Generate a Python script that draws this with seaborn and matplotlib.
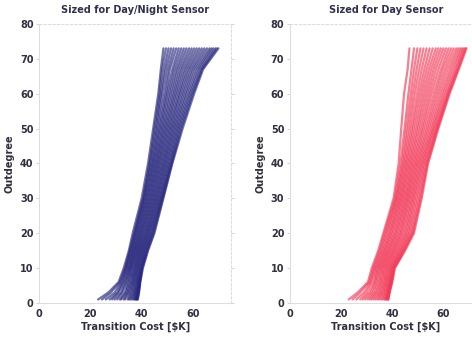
import pandas as pd
import matplotlib.pyplot as plt
import seaborn as sns

outdegree = [1, 3, 6, 10, 15, 20, 30, 40, 50, 60, 67, 73]

# transition cost [$K] per trace, sized for day/night sensor
day_night_costs = [
    [23.0, 27.0, 31.0, 33.0, 35.0, 36.5, 40.0, 42.5, 44.5, 46.5, 47.5, 48.5],
    [24.5, 28.0, 31.5, 33.5, 35.3, 37.0, 40.5, 43.0, 45.0, 47.0, 48.0, 49.5],
    [26.0, 29.5, 32.0, 33.8, 35.6, 37.3, 40.8, 43.3, 45.5, 47.5, 48.8, 50.5],
    [27.5, 30.5, 32.5, 34.0, 36.0, 37.6, 41.0, 43.8, 46.0, 48.0, 49.5, 51.5],
    [28.5, 31.0, 33.0, 34.5, 36.3, 38.0, 41.5, 44.2, 46.5, 48.8, 50.3, 52.5],
    [29.5, 32.0, 33.5, 34.8, 36.6, 38.3, 41.8, 44.6, 47.0, 49.5, 51.0, 53.5],
    [30.5, 32.5, 34.0, 35.2, 37.0, 38.8, 42.2, 45.0, 47.5, 50.0, 52.0, 54.5],
    [31.5, 33.5, 34.5, 35.5, 37.3, 39.0, 42.6, 45.5, 48.0, 50.7, 52.7, 55.5],
    [32.0, 34.0, 35.0, 35.8, 37.6, 39.5, 43.0, 45.8, 48.5, 51.3, 53.5, 56.5],
    [33.0, 34.5, 35.5, 36.2, 38.0, 39.8, 43.4, 46.3, 49.0, 52.0, 54.2, 57.5],
    [33.5, 35.0, 36.0, 36.5, 38.3, 40.2, 43.8, 46.7, 49.5, 52.6, 55.0, 58.5],
    [34.5, 35.5, 36.3, 37.0, 38.6, 40.5, 44.2, 47.1, 50.0, 53.2, 55.7, 59.5],
    [35.0, 36.0, 36.8, 37.3, 39.0, 41.0, 44.6, 47.6, 50.5, 53.8, 56.5, 60.5],
    [35.5, 36.5, 37.0, 37.6, 39.3, 41.3, 45.0, 48.0, 51.0, 54.5, 57.2, 61.5],
    [36.0, 37.0, 37.5, 38.0, 39.6, 41.8, 45.4, 48.5, 51.5, 55.0, 58.0, 62.5],
    [36.5, 37.3, 37.8, 38.3, 40.0, 42.0, 45.8, 48.9, 52.0, 55.7, 58.7, 63.5],
    [37.0, 37.6, 38.2, 38.6, 40.3, 42.5, 46.2, 49.3, 52.5, 56.3, 59.5, 64.5],
    [37.3, 38.0, 38.5, 39.0, 40.6, 42.8, 46.6, 49.8, 53.0, 57.0, 60.2, 65.5],
    [37.6, 38.2, 38.7, 39.3, 41.0, 43.2, 47.0, 50.2, 53.5, 57.6, 61.0, 66.5],
    [37.8, 38.4, 39.0, 39.6, 41.3, 43.6, 47.4, 50.7, 54.0, 58.3, 61.8, 67.3],
    [38.0, 38.6, 39.2, 39.9, 41.6, 44.0, 47.7, 51.1, 54.5, 58.9, 62.5, 68.0],
    [38.2, 38.8, 39.3, 40.1, 42.0, 44.3, 48.0, 51.5, 55.0, 59.5, 63.2, 68.8],
    [38.4, 38.9, 39.4, 40.3, 42.3, 44.7, 48.3, 51.8, 55.5, 60.0, 63.6, 69.4],
    [38.5, 39.0, 39.5, 40.5, 42.5, 45.0, 48.5, 52.0, 56.0, 60.5, 64.0, 70.0],
]

# transition cost [$K] per trace, sized for day sensor
day_costs = [
    [23.0, 26.5, 30.5, 32.0, 34.5, 36.5, 40.5, 42.5, 43.5, 44.6, 46.0, 46.7],
    [24.5, 27.5, 31.0, 32.5, 35.0, 37.0, 41.0, 43.2, 44.8, 46.3, 47.5, 48.5],
    [26.0, 29.0, 31.5, 33.0, 35.5, 37.5, 41.4, 43.8, 45.5, 47.2, 48.5, 49.8],
    [27.5, 30.0, 32.0, 33.4, 36.0, 38.0, 41.8, 44.3, 46.2, 48.0, 49.5, 51.0],
    [28.5, 31.0, 32.8, 33.9, 36.5, 38.6, 42.2, 44.8, 46.9, 48.8, 50.5, 52.2],
    [29.5, 31.8, 33.3, 34.3, 37.0, 39.1, 42.7, 45.3, 47.6, 49.7, 51.5, 53.4],
    [30.5, 32.5, 33.8, 34.8, 37.4, 39.6, 43.1, 45.8, 48.2, 50.5, 52.5, 54.6],
    [31.3, 33.2, 34.4, 35.2, 37.9, 40.1, 43.6, 46.3, 48.9, 51.3, 53.4, 55.8],
    [32.0, 33.8, 35.0, 35.7, 38.4, 40.7, 44.0, 46.8, 49.6, 52.1, 54.3, 57.0],
    [32.8, 34.4, 35.5, 36.1, 38.8, 41.2, 44.5, 47.3, 50.2, 52.9, 55.2, 58.0],
    [33.5, 35.0, 36.0, 36.6, 39.3, 41.7, 45.0, 47.8, 50.9, 53.7, 56.1, 59.0],
    [34.2, 35.5, 36.5, 37.0, 39.8, 42.2, 45.4, 48.3, 51.6, 54.5, 57.0, 60.0],
    [34.8, 36.0, 37.0, 37.5, 40.3, 42.8, 45.9, 48.8, 52.2, 55.3, 58.0, 61.0],
    [35.4, 36.5, 37.4, 37.9, 40.7, 43.3, 46.3, 49.3, 52.9, 56.2, 59.0, 62.0],
    [36.0, 37.0, 37.8, 38.4, 41.2, 43.8, 46.8, 49.8, 53.6, 57.0, 59.8, 63.0],
    [36.5, 37.4, 38.2, 38.8, 41.7, 44.4, 47.3, 50.3, 54.2, 57.8, 60.7, 64.0],
    [37.0, 37.8, 38.6, 39.2, 42.2, 45.0, 47.8, 50.8, 54.9, 58.6, 61.6, 65.0],
    [37.3, 38.1, 38.9, 39.6, 42.7, 45.5, 48.3, 51.3, 55.5, 59.4, 62.5, 65.8],
    [37.6, 38.3, 39.2, 39.9, 43.2, 46.1, 48.8, 51.8, 56.0, 60.1, 63.3, 66.6],
    [37.8, 38.5, 39.4, 40.2, 43.6, 46.6, 49.4, 52.3, 56.5, 60.8, 64.1, 67.2],
    [38.0, 38.7, 39.6, 40.5, 44.0, 47.2, 50.0, 52.8, 57.0, 61.4, 64.8, 67.8],
    [38.2, 38.8, 39.7, 40.7, 44.4, 47.7, 50.6, 53.3, 57.4, 61.8, 65.3, 68.3],
    [38.4, 38.9, 39.9, 40.9, 44.7, 48.1, 51.1, 53.7, 57.7, 62.1, 65.7, 68.7],
    [38.5, 39.0, 40.0, 41.0, 45.0, 48.5, 51.5, 54.0, 58.0, 62.4, 66.0, 69.0],
]

titles = ["Sized for Day/Night Sensor", "Sized for Day Sensor"]
colors = ["#28287e", "#f23a58"]


def to_frame(costs):
    rows = []
    for i, trace in enumerate(costs):
        for od, c in zip(outdegree, trace):
            rows.append({"trace": i, "cost": c, "outdegree": od})
    return pd.DataFrame(rows)


sns.set_style("white")
plt.rcParams['font.family'] = ['DejaVu Sans']

fig = plt.figure(figsize=(4.72, 3.37), dpi=100)
positions = [[0.083, 0.101, 0.407, 0.828], [0.614, 0.101, 0.407, 0.828]]

for pos, costs, title, color in zip(positions, [day_night_costs, day_costs], titles, colors):
    ax = fig.add_axes(pos)
    df = to_frame(costs)
    sns.lineplot(data=df, x="cost", y="outdegree", units="trace", estimator=None,
                 sort=False, color=color, alpha=0.65, linewidth=1.6, ax=ax)
    ax.set_xlim(0, 75)
    ax.set_ylim(0, 80)
    ax.set_xticks([0, 20, 40, 60])
    ax.set_yticks(range(0, 81, 10))
    ax.set_title(title, fontsize=7, fontweight="bold", color="#303050", pad=8)
    ax.set_xlabel("Transition Cost [$K]", fontsize=7, fontweight="bold", color="#303040", labelpad=2)
    ax.set_ylabel("Outdegree", fontsize=7, fontweight="bold", color="#303040", labelpad=4)
    ax.tick_params(axis="both", labelsize=7, colors="#cccccc", length=2, width=0.6,
                   labelcolor="#303040", pad=2, right=True, left=True)
    for lab in ax.get_xticklabels() + ax.get_yticklabels():
        lab.set_fontweight("bold")
    for side in ["left", "bottom"]:
        ax.spines[side].set_color("#dddddd")
        ax.spines[side].set_linewidth(0.8)
    for side in ["top", "right"]:
        ax.spines[side].set_color("#dddddd")
        ax.spines[side].set_linestyle((0, (2, 2)))
        ax.spines[side].set_linewidth(0.8)

fig.savefig("out.png", dpi=100)
